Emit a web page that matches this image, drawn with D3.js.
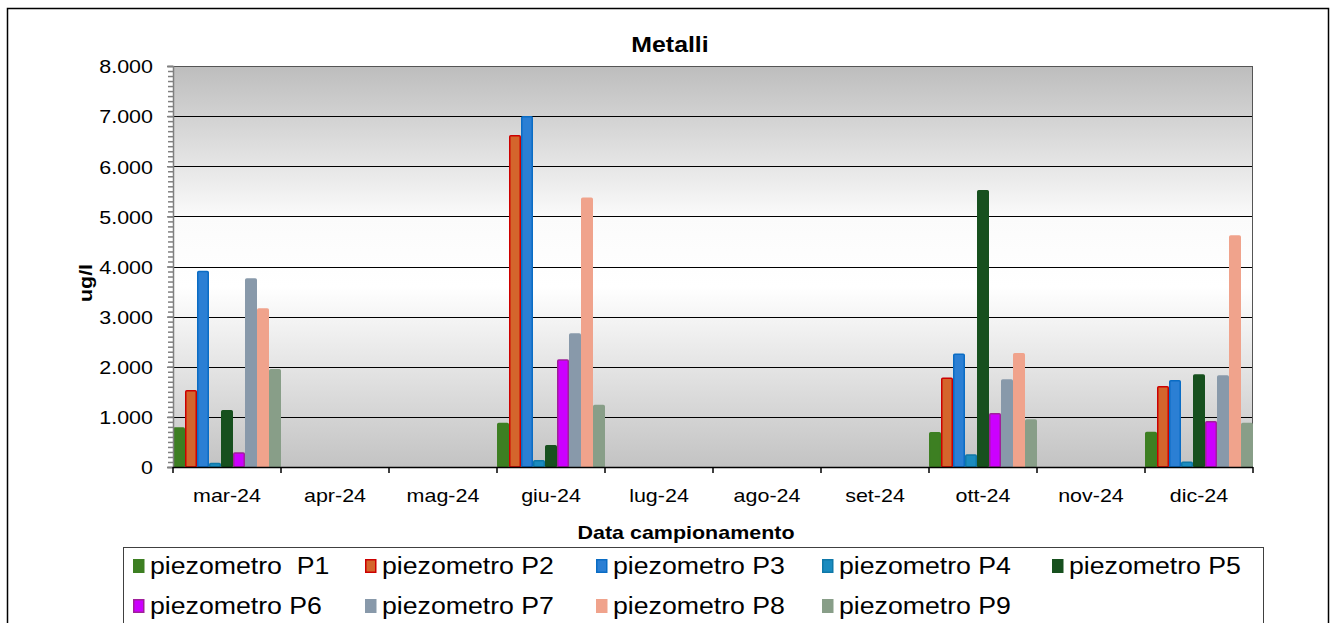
<!DOCTYPE html>
<html><head><meta charset="utf-8">
<script src="https://cdn.jsdelivr.net/npm/d3@7"></script>
<style>
body{margin:0;background:#fff}
svg{display:block}
text{font-family:"Liberation Sans",Arial,sans-serif;fill:#000}
</style>
</head><body>
<svg id="c" width="1335" height="623"></svg>
<script>
// ---- data ----
const categories = ["mar-24","apr-24","mag-24","giu-24","lug-24","ago-24","set-24","ott-24","nov-24","dic-24"];
const seriesNames = ["piezometro  P1","piezometro P2","piezometro P3","piezometro P4","piezometro P5","piezometro P6","piezometro P7","piezometro P8","piezometro P9"];
const P1 = [780, null, null, 870, null, null, null, 685, null, 690];
const P2 = [1520, null, null, 6610, null, null, null, 1770, null, 1600];
const P3 = [3900, null, null, 6990, null, null, null, 2250, null, 1720];
const P4 = [70, null, null, 125, null, null, null, 240, null, 95];
const P5 = [1120, null, null, 425, null, null, null, 5510, null, 1835];
const P6 = [280, null, null, 2135, null, null, null, 1060, null, 905];
const P7 = [3750, null, null, 2655, null, null, null, 1735, null, 1815];
const P8 = [3150, null, null, 5360, null, null, null, 2260, null, 4610];
const P9 = [1940, null, null, 1225, null, null, null, 940, null, 870];
const seriesValues = [P1,P2,P3,P4,P5,P6,P7,P8,P9];
const yTicks = [0,1000,2000,3000,4000,5000,6000,7000,8000];
const fills   = ["#3d7f22","#d4652c","#2b7fd4","#1a8bbf","#17501e","#cc00ff","#8899aa","#f0a38c","#889e88"];
const strokes = ["#3d7f22","#cc0000","#0a6cc4","#0f78a8","#17501e","#a0209a","#8899aa","#f0a38c","#889e88"];
const title = "Metalli", xTitle = "Data campionamento", yTitle = "ug/l";

// ---- layout ----
const SX = 1.13;
const svg = d3.select("#c");
const M = {left:173, top:66, right:1253, bottom:467};
const it = d3.formatLocale({decimal:",", thousands:".", grouping:[3], currency:["","€"]});
const fmt = it.format(",d");

// outer frame
svg.append("rect").attr("x",7.5).attr("y",8.5).attr("width",1321).attr("height",700)
  .attr("fill","#fff").attr("stroke","#000").attr("stroke-width",1.5);

// gradient
const defs = svg.append("defs");
const g = defs.append("linearGradient").attr("id","bg").attr("x1",0).attr("y1",0).attr("x2",0).attr("y2",1);
[[0,"#bdbdbd"],[0.38,"#fbfbfb"],[0.55,"#ffffff"],[1,"#c3c3c3"]].forEach(([o,c])=>g.append("stop").attr("offset",o).attr("stop-color",c));

const x0 = d3.scaleBand().domain(categories).range([M.left,M.right]).padding(0);
const x1 = d3.scaleBand().domain(d3.range(seriesNames.length)).range([0,x0.bandwidth()]).padding(0);
const y = d3.scaleLinear().domain([0,8000]).range([M.bottom,M.top]);

svg.append("rect").attr("x",M.left).attr("y",M.top).attr("width",M.right-M.left).attr("height",M.bottom-M.top)
  .attr("fill","url(#bg)");

// grid
svg.append("g").selectAll("line").data(yTicks.slice(1)).join("line")
  .attr("x1",M.left).attr("x2",M.right).attr("y1",d=>Math.round(y(d))+0.5).attr("y2",d=>Math.round(y(d))+0.5)
  .attr("stroke","#000").attr("stroke-width",1);
// plot border
svg.append("rect").attr("x",M.left+0.5).attr("y",M.top+0.5).attr("width",M.right-M.left-1).attr("height",M.bottom-M.top)
  .attr("fill","none").attr("stroke","#555").attr("stroke-width",1);

// bars
const bars = svg.append("g");
seriesValues.forEach((vals,si)=>{
  bars.append("g").selectAll("rect").data(categories.map((c,i)=>({c,v:vals[i]})).filter(d=>d.v!=null)).join("rect")
    .attr("x",d=>x0(d.c)+x1(si)+0.75)
    .attr("y",d=>y(d.v))
    .attr("width",x1.bandwidth()-1.5)
    .attr("height",d=>y(0)-y(d.v))
    .attr("rx",1)
    .attr("fill",fills[si]).attr("stroke",strokes[si]).attr("stroke-width",1.5);
});

// y axis minor ticks
const minor = d3.range(0,8001,100);
const yMinor = svg.append("g").attr("transform",`translate(${M.left},0)`)
  .call(d3.axisLeft(y).tickValues(minor).tickSize(5).tickFormat(""));
yMinor.select(".domain").remove();
yMinor.selectAll("line").attr("stroke","#808080").attr("stroke-width",1.5);
const yAx = svg.append("g").attr("transform",`translate(${M.left},0)`)
  .call(d3.axisLeft(y).tickValues(yTicks).tickSize(6).tickFormat(fmt));
yAx.select(".domain").attr("stroke","#808080").attr("stroke-width",1.5);
yAx.selectAll("line").attr("stroke","#808080").attr("stroke-width",1.5);
yAx.selectAll("text").attr("x",0).attr("dy","0.36em")
  .attr("transform",`translate(-20,0) scale(${SX},1)`)
  .style("font-size","19px").style("font-family","'Liberation Sans',Arial,sans-serif").attr("fill","#000");

// x axis
const xAx = svg.append("g").attr("transform",`translate(0,${M.bottom})`)
  .call(d3.axisBottom(x0).tickSize(0).tickPadding(0));
xAx.select(".domain").remove();
xAx.selectAll("text").attr("y",0).attr("dy",0)
  .attr("transform",`translate(0,35) scale(${SX},1)`)
  .style("font-size","19px").style("font-family","'Liberation Sans',Arial,sans-serif").attr("fill","#000");
svg.append("line").attr("x1",M.left).attr("x2",M.right).attr("y1",M.bottom+0.5).attr("y2",M.bottom+0.5).attr("stroke","#000").attr("stroke-width",1.5);
svg.append("g").selectAll("line").data(categories.map(c=>x0(c)).concat([M.right])).join("line")
  .attr("x1",d=>d).attr("x2",d=>d).attr("y1",M.bottom).attr("y2",M.bottom+6).attr("stroke","#000").attr("stroke-width",1.5);

// titles
function txt(x,yy,s,size,bold,anchor,extra){
  return svg.append("text").attr("transform",`translate(${x},${yy}) ${extra||""} scale(${SX},1)`)
    .attr("text-anchor",anchor||"middle").style("font-size",size+"px").style("font-weight",bold?"bold":"normal").text(s);
}
txt(670,52,title,22,true);
txt(686,539,xTitle,19,true);
txt(92,283,yTitle,19,true,"middle","rotate(-90)");

// legend
svg.append("rect").attr("x",123.5).attr("y",547.5).attr("width",1140).attr("height",120)
  .attr("fill","#fff").attr("stroke","#404040").attr("stroke-width",1);
const cols = [133,365,596,822,1052], rows = [566,606];
seriesNames.forEach((n,i)=>{
  const cx = cols[i%5], cy = rows[Math.floor(i/5)];
  svg.append("rect").attr("x",cx+0.75).attr("y",cy-6.25).attr("width",10).attr("height",12.5)
    .attr("fill",fills[i]).attr("stroke",strokes[i]).attr("stroke-width",1.5);
  svg.append("text").attr("transform",`translate(${cx+17},${cy+8}) scale(1.16,1)`)
    .style("font-size","23px").text(n).attr("xml:space","preserve").style("white-space","pre");
});
</script>
</body></html>
